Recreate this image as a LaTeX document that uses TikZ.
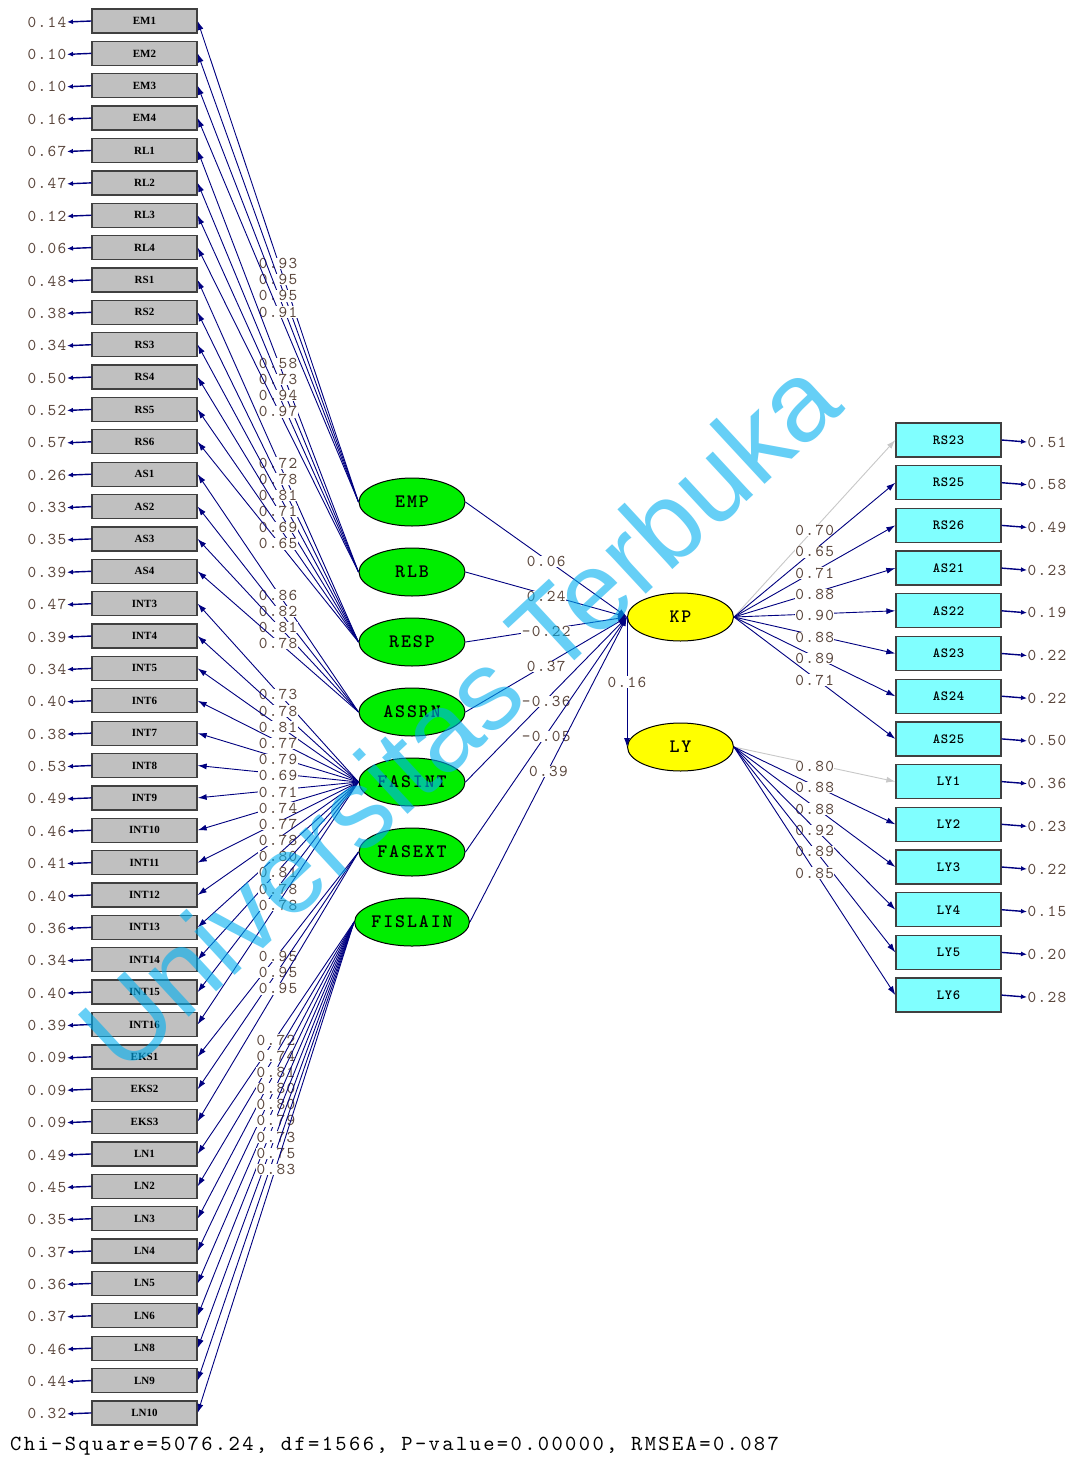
\documentclass[tikz,border=0pt]{standalone}
\usepackage{fontspec}
\setmainfont{Liberation Serif}
\newfontfamily\wmfont{Liberation Sans}
\newfontfamily\numff{lmmono10-regular.otf}[LetterSpace=8]
\newfontfamily\fitff{lmmono10-regular.otf}[LetterSpace=11]
\newfontfamily\latff{lmmonolt10-bold.otf}[LetterSpace=10]
\newfontfamily\rbff{lmmonolt10-bold.otf}[LetterSpace=5]
\usetikzlibrary{arrows.meta,shapes.geometric}
\newcommand\numfont{\numff\fontsize{16.5}{16.5}\selectfont}
\newcommand\fitfont{\fitff\fontsize{21.5}{21.5}\selectfont}
\newcommand\latfont{\latff\fontsize{19}{19}\selectfont}
\newcommand\rbfont{\rbff\fontsize{14}{14}\selectfont}
\definecolor{navyc}{RGB}{0,0,128}
\definecolor{numc}{RGB}{90,70,60}
\definecolor{boxgray}{RGB}{192,192,192}
\definecolor{boxcyan}{RGB}{128,255,255}
\definecolor{latgreen}{RGB}{0,238,0}
\definecolor{latyellow}{RGB}{255,255,0}
\definecolor{fixgray}{RGB}{200,200,200}
\definecolor{wmark}{RGB}{0,175,240}
\tikzset{
  obsL/.style={draw=black!75, line width=1.3pt, fill=boxgray, minimum width=105pt, minimum height=24pt, inner sep=0pt, font=\bfseries\fontsize{11}{11}\selectfont},
  obsR/.style={draw=black!75, line width=1.3pt, fill=boxcyan, minimum width=105pt, minimum height=34pt, inner sep=0pt, font=\rbfont},
  latent/.style={ellipse, draw=black, line width=1pt, minimum width=106pt, minimum height=48pt, inner sep=0pt, font=\latfont},
  numlab/.style={text=numc, inner sep=0.5pt, font=\numfont},
  midlab/.style={numlab, fill=white},
  load/.style={draw=navyc, line width=0.9pt, -{Latex[length=9pt,width=6pt]}},
  errarr/.style={draw=navyc, line width=1.4pt, -{Latex[length=6pt,width=5pt]}}
}
\begin{document}
\begin{tikzpicture}[x=1pt,y=-1pt]
\path[use as bounding box, fill=white] (0,0) rectangle (1079,1457);
% latent variables
\node[latent, fill=latgreen] (EMP) at (412,502) {EMP};
\node[latent, fill=latgreen] (RLB) at (412,572) {RLB};
\node[latent, fill=latgreen] (RESP) at (412,642) {RESP};
\node[latent, fill=latgreen] (ASSRN) at (412,712) {ASSRN};
\node[latent, fill=latgreen] (FASINT) at (412,782) {FASINT};
\node[latent, fill=latgreen] (FASEXT) at (412,852) {FASEXT};
\node[latent, fill=latgreen] (FISLAIN) at (412,922) {FISLAIN};
\node[latent, fill=latyellow] (KP) at (680.5,617) {KP};
\node[latent, fill=latyellow] (LY) at (680.5,747) {LY};
% left indicators
\foreach \n/\e/\l/\lat [count=\i from 0] in {EM1/0.14/0.93/EMP, EM2/0.10/0.95/EMP, EM3/0.10/0.95/EMP, EM4/0.16/0.91/EMP, RL1/0.67/0.58/RLB, RL2/0.47/0.73/RLB, RL3/0.12/0.94/RLB, RL4/0.06/0.97/RLB, RS1/0.48/0.72/RESP, RS2/0.38/0.78/RESP, RS3/0.34/0.81/RESP, RS4/0.50/0.71/RESP, RS5/0.52/0.69/RESP, RS6/0.57/0.65/RESP, AS1/0.26/0.86/ASSRN, AS2/0.33/0.82/ASSRN, AS3/0.35/0.81/ASSRN, AS4/0.39/0.78/ASSRN, INT3/0.47/0.73/FASINT, INT4/0.39/0.78/FASINT, INT5/0.34/0.81/FASINT, INT6/0.40/0.77/FASINT, INT7/0.38/0.79/FASINT, INT8/0.53/0.69/FASINT, INT9/0.49/0.71/FASINT, INT10/0.46/0.74/FASINT, INT11/0.41/0.77/FASINT, INT12/0.40/0.78/FASINT, INT13/0.36/0.80/FASINT, INT14/0.34/0.81/FASINT, INT15/0.40/0.78/FASINT, INT16/0.39/0.78/FASINT, EKS1/0.09/0.95/FASEXT, EKS2/0.09/0.95/FASEXT, EKS3/0.09/0.95/FASEXT, LN1/0.49/0.72/FISLAIN, LN2/0.45/0.74/FISLAIN, LN3/0.35/0.81/FISLAIN, LN4/0.37/0.80/FISLAIN, LN5/0.36/0.80/FISLAIN, LN6/0.37/0.79/FISLAIN, LN8/0.46/0.73/FISLAIN, LN9/0.44/0.75/FISLAIN, LN10/0.32/0.83/FISLAIN}{
  \node[obsL] (L\i) at (144.5,{21+32.37*\i}) {\n};
  \node[numlab, anchor=east] (E\i) at (67,{22+32.37*\i}) {\e};
  \draw[errarr] (L\i.west) -- (E\i.east);
  \draw[load] (\lat.west) -- node[midlab, yshift=-2pt]{\l} (L\i.east);
}
% structural paths
\foreach \lat/\v in {EMP/0.06, RLB/0.24, RESP/-0.22, ASSRN/0.37, FASINT/-0.36, FASEXT/-0.05, FISLAIN/0.39}{
  \draw[load] (\lat.east) -- node[midlab, yshift=-2pt]{\v} (KP.west);
}
\draw[load] (KP.west) -- node[midlab]{0.16} (LY.west);
% right indicators
\foreach \n/\e/\l/\lat/\c [count=\i from 0] in {RS23/0.51/0.70/KP/fixgray, RS25/0.58/0.65/KP/navyc, RS26/0.49/0.71/KP/navyc, AS21/0.23/0.88/KP/navyc, AS22/0.19/0.90/KP/navyc, AS23/0.22/0.88/KP/navyc, AS24/0.22/0.89/KP/navyc, AS25/0.50/0.71/KP/navyc, LY1/0.36/0.80/LY/fixgray, LY2/0.23/0.88/LY/navyc, LY3/0.22/0.88/LY/navyc, LY4/0.15/0.92/LY/navyc, LY5/0.20/0.89/LY/navyc, LY6/0.28/0.85/LY/navyc}{
  \node[obsR] (R\i) at (948.5,{440+42.7*\i}) {\n};
  \node[numlab, anchor=west] (RE\i) at (1027,{442+42.7*\i}) {\e};
  \draw[errarr] (R\i.east) -- (RE\i.west);
  \draw[load, draw=\c] (\lat.east) -- node[midlab, yshift=-2pt]{\l} (R\i.west);
}
% fit statistics
\node[anchor=base west, inner sep=0pt, font=\fitfont] (fit) at (10,1450) {Chi-Square=5076.24, df=1566, P-value=0.00000, RMSEA=0.087};
% watermark
\node[rotate=42.8, text=wmark, opacity=0.6, inner sep=0pt, font=\wmfont\fontsize{112}{112}\selectfont] (wm) at (458,714) {Universitas Terbuka};
\end{tikzpicture}
\end{document}
